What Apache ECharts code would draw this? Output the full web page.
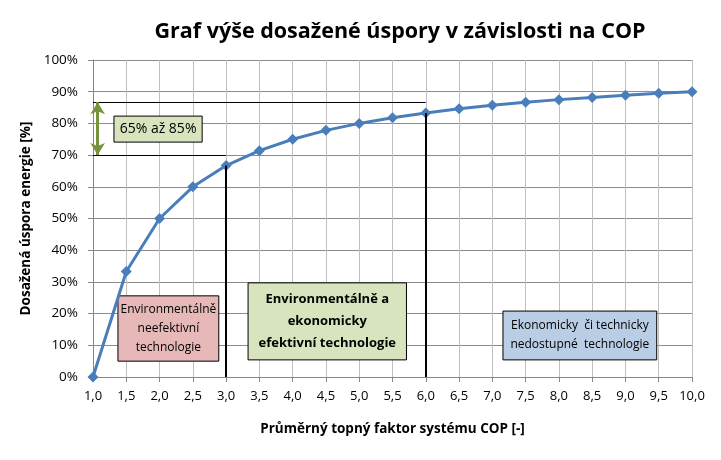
<!DOCTYPE html>
<html><head><meta charset="utf-8">
<script src="https://cdn.jsdelivr.net/npm/echarts@6/dist/echarts.min.js"></script>
<style>html,body{margin:0;padding:0;background:#fff}#c{width:721px;height:460px}</style>
</head><body><div id="c"></div>
<script>
const cop = [1.0,1.5,2.0,2.5,3.0,3.5,4.0,4.5,5.0,5.5,6.0,6.5,7.0,7.5,8.0,8.5,9.0,9.5,10.0];
const saving = [0,33.3,50,60,66.7,71.4,75,77.8,80,81.8,83.3,84.6,85.7,86.7,87.5,88.2,88.9,89.5,90];
const titleText = 'Graf výše dosažené úspory v závislosti na COP';
const xName = 'Průměrný topný faktor systému COP [-]';
const yName = 'Dosažená úspora energie [%]';
const rangeLabel = '65% až 85%';
const rangeTop = 86.7, rangeBottom = 70;
const boxes = [
  {text:'Environmentálně\nneefektivní\ntechnologie', x:[1.375,2.89], y:[5.0,25.6], color:'#e6b9b8', bold:false, size:12},
  {text:'Environmentálně a\nekonomicky\nefektivní technologie', x:[3.33,5.71], y:[5.4,29.7], color:'#d7e4bd', bold:true, size:13},
  {text:'Ekonomicky  či technicky\nnedostupné  technologie', x:[7.16,9.47], y:[5.4,20.8], color:'#b9cde5', bold:false, size:12},
  {text:rangeLabel, x:[1.315,2.64], y:[74.1,82.3], color:'#d7e4bd', bold:false, size:14}
];
const font = 'Open Sans';
const chart = echarts.init(document.getElementById('c'));
chart.setOption({
  animation:false,
  textStyle:{fontFamily:font},
  title:{text:titleText,left:395,textAlign:'center',top:16,textStyle:{fontSize:21.5,fontWeight:'bold',color:'#000',fontFamily:font}},
  grid:{left:93,right:29,top:60,bottom:83},
  xAxis:{type:'value',min:1,max:10,interval:0.5,
    name:xName,nameLocation:'middle',nameGap:45,nameTextStyle:{fontSize:13.5,fontWeight:'bold',color:'#000'},
    axisLine:{lineStyle:{color:'#868686'}},axisTick:{show:true,length:5,lineStyle:{color:'#868686'}},
    axisLabel:{color:'#000',fontSize:13,margin:13,formatter:v=>v.toFixed(1).replace('.',',')},
    splitLine:{show:true,lineStyle:{color:'#c0c0c0'}}},
  yAxis:{type:'value',min:0,max:100,interval:10,
    name:yName,nameLocation:'middle',nameGap:50,nameTextStyle:{fontSize:13.5,fontWeight:'bold',color:'#000'},
    axisLine:{show:true,lineStyle:{color:'#868686'}},axisTick:{show:true,length:5,lineStyle:{color:'#868686'}},
    axisLabel:{color:'#000',fontSize:13.5,margin:15,formatter:'{value}%'},
    splitLine:{show:true,lineStyle:{color:'#8c8c8c'}}},
  series:[{
    type:'line',data:cop.map((c,i)=>[c,saving[i]]),
    symbol:'diamond',symbolSize:11,
    lineStyle:{color:'#4a7ebb',width:3},itemStyle:{color:'#4a7ebb'},
    z:3,
    markLine:{silent:true,symbol:'none',label:{show:false},
      data:[
        [{coord:[1,rangeTop],lineStyle:{color:'#000',width:1,type:'solid'}},{coord:[6,rangeTop]}],
        [{coord:[1,rangeBottom],lineStyle:{color:'#000',width:1,type:'solid'}},{coord:[3,rangeBottom]}],
        [{coord:[3,0],lineStyle:{color:'#000',width:2,type:'solid'}},{coord:[3,saving[4]]}],
        [{coord:[6,0],lineStyle:{color:'#000',width:2,type:'solid'}},{coord:[6,saving[10]]}],
        [{coord:[1.07,rangeBottom],symbol:'arrow',symbolSize:[11,12],lineStyle:{color:'#77933c',width:3,type:'solid'}},{coord:[1.07,rangeTop],symbol:'arrow',symbolSize:[11,12]}]
      ]},
    markArea:{silent:true,
      data:boxes.map(b=>[
        {coord:[b.x[0],b.y[0]],itemStyle:{color:b.color,borderColor:'#000',borderWidth:1},
          label:{show:true,position:'inside',formatter:b.text,color:'#000',fontSize:b.size,fontWeight:b.bold?'bold':'normal',lineHeight:b.bold?22:19,fontFamily:font}},
        {coord:[b.x[1],b.y[1]]}
      ])}
  }]
});
</script></body></html>
